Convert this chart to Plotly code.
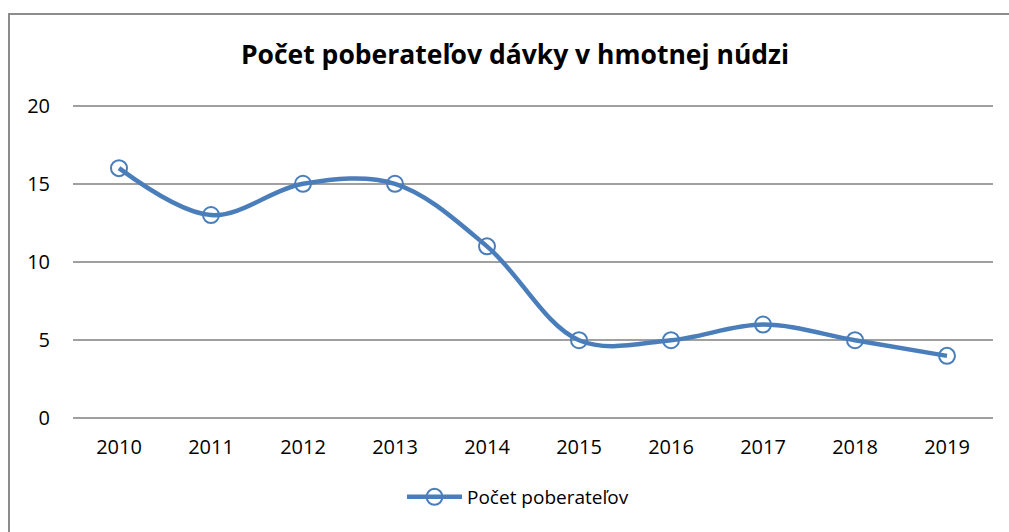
import plotly.graph_objects as go

years = ["2010", "2011", "2012", "2013", "2014", "2015", "2016", "2017", "2018", "2019"]
values = [16, 13, 15, 15, 11, 5, 5, 6, 5, 4]
series_name = "Počet poberateľov"
title_text = "Počet poberateľov dávky v hmotnej núdzi"
y_ticks = [0, 5, 10, 15, 20]

blue = "#4a7ebb"
font_family = "Open Sans, sans-serif"

fig = go.Figure()
fig.add_trace(go.Scatter(
    x=years, y=values, name=series_name,
    mode="lines+markers",
    line=dict(color=blue, width=4.5, shape="spline", smoothing=1.0),
    marker=dict(symbol="circle-open", size=16, color=blue, line=dict(width=2, color=blue)),
))

L, R, T, B = 73, 16, 104, 112
W, H = 1009, 532
pw, ph = W - L - R, H - T - B

def px_x(x):
    return (x - L) / pw

def px_y(y):
    return (H - B - y) / ph

fig.update_layout(
    width=W, height=H,
    margin=dict(l=L, r=R, t=T, b=B, pad=0),
    paper_bgcolor="white", plot_bgcolor="white",
    title=dict(text="<b>" + title_text + "</b>", x=515 / W, xanchor="center",
               y=1 - 55 / H, yanchor="middle",
               font=dict(family=font_family, size=26.5, color="black")),
    font=dict(family=font_family, size=20, color="black"),
    showlegend=True,
    legend=dict(orientation="h", x=px_x(518), xanchor="center", y=px_y(497), yanchor="middle",
                font=dict(family=font_family, size=19, color="black"),
                itemwidth=55),
    xaxis=dict(type="category", range=[-0.5, 9.5], showgrid=False, zeroline=False,
               showline=False, ticks="", ticklabelstandoff=13),
    yaxis=dict(range=[-0.1, 20.1], tickvals=y_ticks, showgrid=True, gridcolor="#a0a0a0",
               gridwidth=2, zeroline=False, showline=False, ticks="",
               ticklabelstandoff=22),
    shapes=[dict(type="rect", xref="paper", yref="paper",
                 x0=px_x(9), x1=px_x(1030), y0=px_y(560), y1=px_y(14),
                 line=dict(color="#8c8c8c", width=2), fillcolor="rgba(0,0,0,0)", layer="below")],
)

fig.write_html("out.html", config={"displayModeBar": False},
               post_script="document.body.style.margin='0';document.body.style.padding='0';")
